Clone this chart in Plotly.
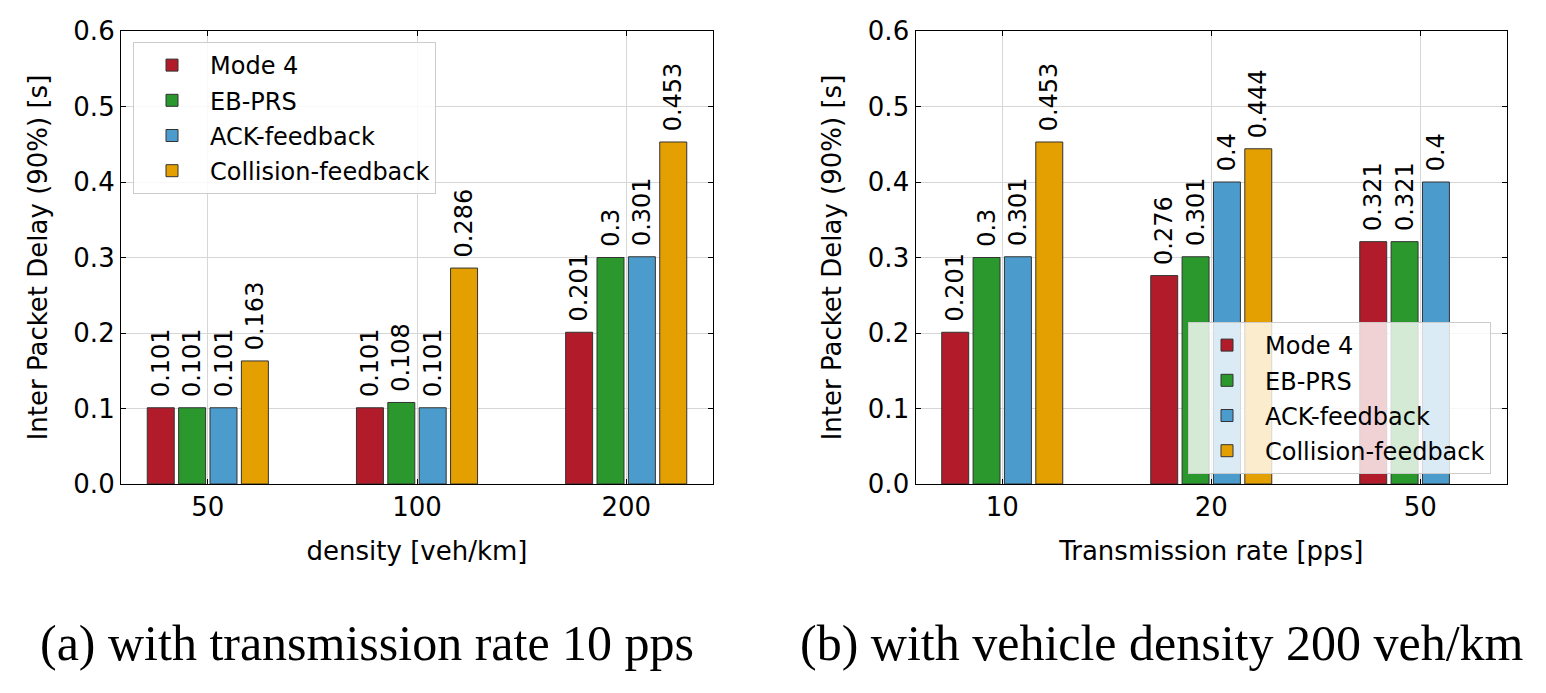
import plotly.graph_objects as go

series = ["Mode 4", "EB-PRS", "ACK-feedback", "Collision-feedback"]
colors = ["#b21c2a", "#2a982d", "#4b9ccc", "#e4a000"]

density_cats = ["50", "100", "200"]
density_vals = {
    "Mode 4": [0.101, 0.101, 0.201],
    "EB-PRS": [0.101, 0.108, 0.3],
    "ACK-feedback": [0.101, 0.101, 0.301],
    "Collision-feedback": [0.163, 0.286, 0.453],
}

rate_cats = ["10", "20", "50"]
rate_vals = {
    "Mode 4": [0.201, 0.276, 0.321],
    "EB-PRS": [0.3, 0.301, 0.321],
    "ACK-feedback": [0.301, 0.4, 0.4],
    "Collision-feedback": [0.453, 0.444, None],
}

y_ticks = [0.0, 0.1, 0.2, 0.3, 0.4, 0.5, 0.6]

FONT = "DejaVu Sans"
OFF = 8  # page body margin
W, H = 1546 - 2 * OFF, 693 - 2 * OFF
ML, MR, MT, MB = 121 - OFF, W - (1507 - OFF), 31 - OFF, H - (484 - OFF)
PW, PH = W - ML - MR, H - MT - MB


def px_x(x):
    return (x - OFF - ML) / PW


def px_y(y):
    return (H - MB - (y - OFF)) / PH


def fmt(v):
    if v is None:
        return ""
    return "\u00a0" + ("%g" % v)


fig = go.Figure()
for i, s in enumerate(series):
    fig.add_trace(go.Bar(
        x=density_cats, y=density_vals[s], name=s,
        marker=dict(color=colors[i], line=dict(color="#333333", width=1)),
        text=[fmt(v) for v in density_vals[s]], textposition="outside",
        textangle=-90, constraintext="none", cliponaxis=False,
        textfont=dict(family=FONT, size=24, color="black"),
        xaxis="x", yaxis="y", legend="legend", legendgroup="a" + str(i),
    ))
for i, s in enumerate(series):
    fig.add_trace(go.Bar(
        x=rate_cats, y=rate_vals[s], name=s,
        marker=dict(color=colors[i], line=dict(color="#333333", width=1)),
        text=[fmt(v) for v in rate_vals[s]], textposition="outside",
        textangle=-90, constraintext="none", cliponaxis=False,
        textfont=dict(family=FONT, size=24, color="black"),
        xaxis="x2", yaxis="y2", legend="legend2", legendgroup="b" + str(i),
    ))

axis_common = dict(
    showline=True, linecolor="black", linewidth=1.2, mirror="ticks",
    ticks="inside", ticklen=5, tickcolor="black",
    showgrid=True, gridcolor="#d6d6d6", gridwidth=1,
    tickfont=dict(family=FONT, size=26, color="black"),
    zeroline=False, automargin=False,
)
title_font = dict(family=FONT, size=26, color="black")

fig.update_layout(
    width=W, height=H,
    margin=dict(l=ML, r=MR, t=MT, b=MB, autoexpand=False),
    paper_bgcolor="white", plot_bgcolor="white",
    barmode="group", bargap=0.4, bargroupgap=0.14,
    showlegend=True,
    xaxis=dict(domain=[0, px_x(713)], type="category",
               range=[-0.415, 2.415], anchor="y",
               title=dict(text="density [veh/km]", font=title_font, standoff=20),
               **axis_common),
    yaxis=dict(domain=[0, 1], range=[0, 0.6], tickvals=y_ticks, tickformat=".1f", anchor="x",
               title=dict(text="Inter Packet Delay (90%) [s]", font=title_font, standoff=18),
               **axis_common),
    xaxis2=dict(domain=[px_x(915.5), 1], type="category",
                range=[-0.415, 2.415], anchor="y2",
                title=dict(text="Transmission rate [pps]", font=title_font, standoff=20),
                **axis_common),
    yaxis2=dict(domain=[0, 1], range=[0, 0.6], tickvals=y_ticks, tickformat=".1f", anchor="x2",
                title=dict(text="Inter Packet Delay (90%) [s]", font=title_font, standoff=18),
                **axis_common),
    legend=dict(x=px_x(133), y=px_y(42), xanchor="left", yanchor="top",
                bgcolor="rgba(255,255,255,0.85)", bordercolor="#cccccc", borderwidth=1,
                font=dict(family=FONT, size=24, color="black"), tracegroupgap=1,
                itemwidth=66),
    legend2=dict(x=px_x(1188), y=px_y(322), xanchor="left", yanchor="top",
                 bgcolor="rgba(255,255,255,0.8)", bordercolor="#cccccc", borderwidth=1,
                 font=dict(family=FONT, size=24, color="black"), tracegroupgap=1,
                 itemwidth=66),
    annotations=[
        dict(text="(a) with transmission rate 10 pps", x=px_x(367), y=px_y(643),
             xref="paper", yref="paper", showarrow=False, xanchor="center", yanchor="middle",
             font=dict(family="Liberation Serif", size=50, color="black")),
        dict(text="(b) with vehicle density 200 veh/km", x=px_x(1162), y=px_y(643),
             xref="paper", yref="paper", showarrow=False, xanchor="center", yanchor="middle",
             font=dict(family="Liberation Serif", size=50, color="black")),
    ],
)

fig.write_html("out.html")
